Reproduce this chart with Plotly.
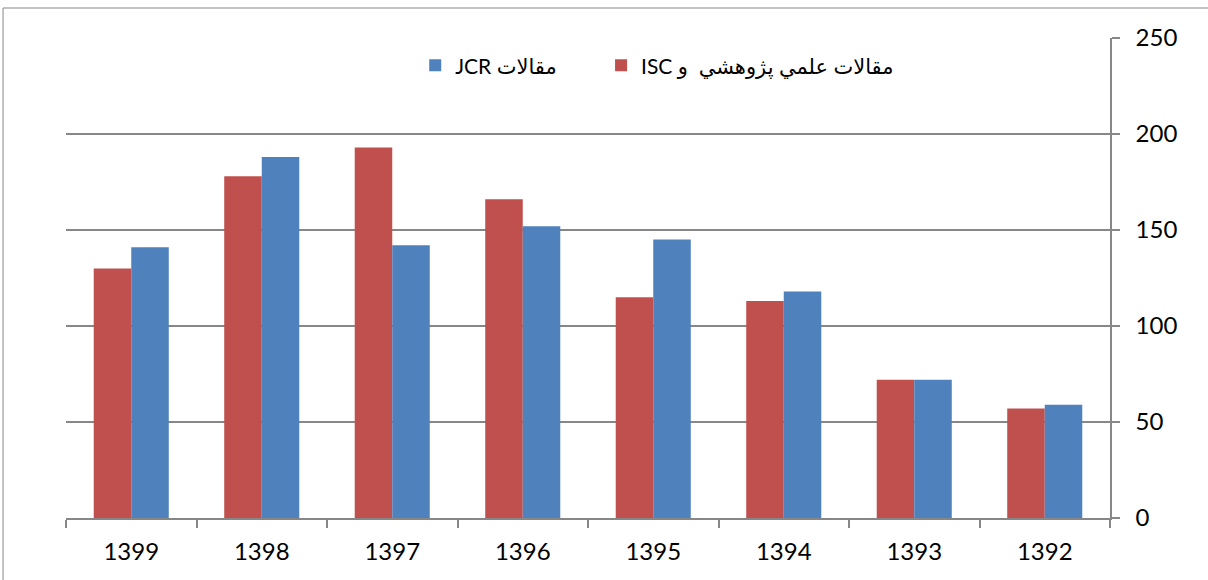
import plotly.graph_objects as go

years = ["1399", "1398", "1397", "1396", "1395", "1394", "1393", "1392"]
isc_values = [130, 178, 193, 166, 115, 113, 72, 57]
jcr_values = [141, 188, 142, 152, 145, 118, 72, 59]
isc_name = "\u202bمقالات علمي پژوهشي  و ISC\u202c"
jcr_name = "\u202bمقالات JCR\u202c"
y_ticks = [0, 50, 100, 150, 200, 250]

RED = "#C0504D"
BLUE = "#4F81BD"
GRAY = "#878787"
FONT = "Lato, 'DejaVu Sans', sans-serif"

fig = go.Figure()
fig.add_trace(go.Bar(x=years, y=isc_values, name=isc_name, legend="legend2",
                     marker=dict(color=RED, line=dict(width=0))))
fig.add_trace(go.Bar(x=years, y=jcr_values, name=jcr_name, legend="legend",
                     marker=dict(color=BLUE, line=dict(width=0))))

legend_common = dict(orientation="h", yanchor="top", xanchor="left", itemwidth=30,
                     font=dict(size=21, family=FONT, color="black"),
                     bgcolor="rgba(0,0,0,0)")

fig.update_layout(
    width=1208, height=580,
    margin=dict(l=66, r=98, t=38, b=62),
    paper_bgcolor="white", plot_bgcolor="white",
    barmode="group", bargap=0.425, bargroupgap=0,
    font=dict(family=FONT, size=24, color="black"),
    showlegend=True,
    legend=dict(x=0.3345, y=0.985, **legend_common),
    legend2=dict(x=0.5125, y=0.985, **legend_common),
    xaxis=dict(
        type="category", tickson="boundaries", ticks="outside", ticklen=8,
        tickcolor=GRAY, tickwidth=1.5, showline=True, linecolor=GRAY, linewidth=1.5,
        showgrid=False, ticklabelstandoff=11, tickfont=dict(size=24),
    ),
    yaxis=dict(
        side="right", range=[0, 250], tickvals=y_ticks, ticks="outside", ticklen=8,
        tickcolor=GRAY, tickwidth=1.5, showline=True, linecolor=GRAY, linewidth=1.5,
        showgrid=True, gridcolor=GRAY, gridwidth=1.5, zeroline=False,
        ticklabelstandoff=11, tickfont=dict(size=24),
    ),
)

fig.add_shape(type="rect", xref="paper", yref="paper",
              x0=-0.0603, x1=1.3, y0=-0.3, y1=1.0625,
              line=dict(color=GRAY, width=1), fillcolor="rgba(0,0,0,0)", layer="below")

fig.write_html("out.html", config={"displayModeBar": False},
               post_script="document.body.style.margin='0';document.body.style.overflow='hidden';")
